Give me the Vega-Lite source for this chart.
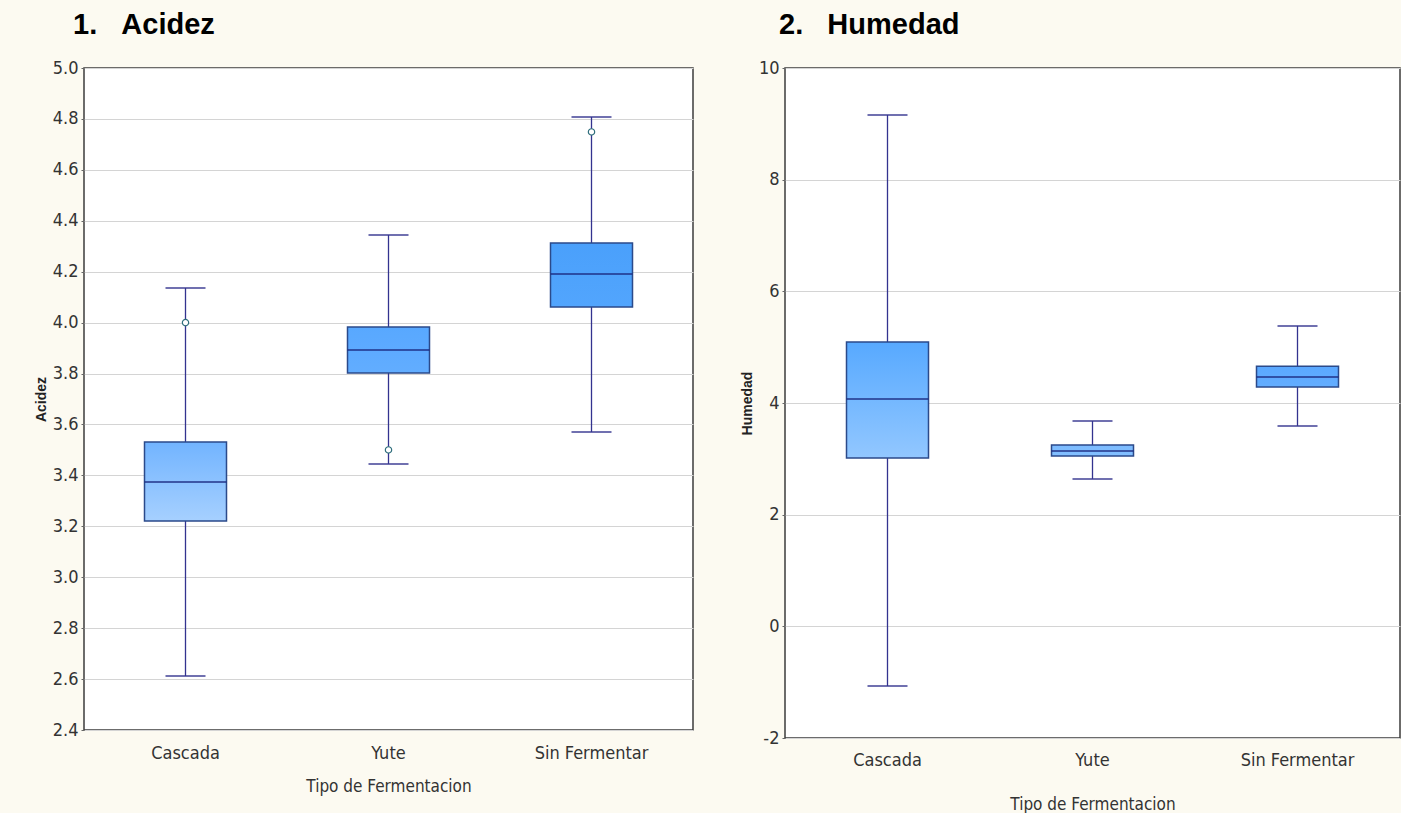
{
  "$schema": "https://vega.github.io/schema/vega-lite/v6.json",
  "background": "#fcfaf1",
  "padding": {"left": 33, "top": 10, "right": 0, "bottom": 0},
  "spacing": 45,
  "config": {
    "view": {"stroke": "#3c3c3c", "strokeWidth": 1.5, "fill": "white"},
    "axis": {
      "labelFont": "Liberation Sans Narrow, DejaVu Sans Condensed, sans-serif",
      "labelFontSize": 18,
      "labelColor": "#333333",
      "titleFont": "Liberation Sans, Arial, sans-serif",
      "titleColor": "#222222",
      "domain": false,
      "tickColor": "#666666",
      "gridColor": "#d4d4d4",
      "gridWidth": 1.2
    },
    "title": {"font": "Liberation Sans, Arial, sans-serif", "fontSize": 29, "fontWeight": "bold", "color": "#000000", "anchor": "start", "frame": "group", "baseline": "alphabetic"}
  },
  "datasets": {
    "acidez": [
      {"tipo": "Cascada", "lo": 2.612, "q1": 3.221, "med": 3.374, "q3": 3.531, "hi": 4.136},
      {"tipo": "Yute", "lo": 3.445, "q1": 3.802, "med": 3.892, "q3": 3.983, "hi": 4.344},
      {"tipo": "Sin Fermentar", "lo": 3.570, "q1": 4.061, "med": 4.191, "q3": 4.313, "hi": 4.808}
    ],
    "acidez_out": [
      {"tipo": "Cascada", "v": 4.0},
      {"tipo": "Yute", "v": 3.5},
      {"tipo": "Sin Fermentar", "v": 4.749}
    ],
    "humedad": [
      {"tipo": "Cascada", "lo": -1.07, "q1": 3.015, "med": 4.071, "q3": 5.092, "hi": 9.158},
      {"tipo": "Yute", "lo": 2.64, "q1": 3.05, "med": 3.14, "q3": 3.247, "hi": 3.677},
      {"tipo": "Sin Fermentar", "lo": 3.59, "q1": 4.286, "med": 4.465, "q3": 4.66, "hi": 5.38}
    ]
  },
  "hconcat": [
    {
      "width": 609,
      "height": 662,
      "title": {"text": "1.\u00a0\u00a0\u00a0Acidez", "dx": -11, "offset": 19},
      "data": {"name": "acidez"},
      "encoding": {
        "x": {
          "field": "tipo", "type": "nominal", "sort": ["Cascada", "Yute", "Sin Fermentar"],
          "scale": {"paddingInner": 0, "paddingOuter": 0},
          "axis": {"title": "Tipo de Fermentacion", "labelAngle": 0, "ticks": false, "labelPadding": 14, "titlePadding": 16, "titleFont": "Liberation Sans Narrow, DejaVu Sans Condensed, sans-serif", "titleFontSize": 17, "titleFontWeight": "normal", "titleColor": "#333333"}
        }
      },
      "layer": [
        {
          "mark": {"type": "rule", "color": "#33338f", "strokeWidth": 1.3},
          "encoding": {
            "y": {"field": "lo", "type": "quantitative", "scale": {"domain": [2.4, 5.0], "nice": false, "zero": false},
              "axis": {"title": "Acidez", "values": [2.4, 2.6, 2.8, 3.0, 3.2, 3.4, 3.6, 3.8, 4.0, 4.2, 4.4, 4.6, 4.8, 5.0], "format": ".1f", "tickSize": 3, "labelPadding": 3, "titlePadding": 4, "titleFontSize": 14, "titleFontWeight": "bold"}},
            "y2": {"field": "hi"}
          }
        },
        {"mark": {"type": "tick", "color": "#33338f", "size": 40, "thickness": 2}, "encoding": {"y": {"field": "lo", "type": "quantitative"}}},
        {"mark": {"type": "tick", "color": "#33338f", "size": 40, "thickness": 2}, "encoding": {"y": {"field": "hi", "type": "quantitative"}}},
        {
          "transform": [{"filter": "datum.tipo === 'Cascada'"}],
          "mark": {"type": "bar", "size": 82, "stroke": "#2b4a8a", "strokeWidth": 1.5,
            "fill": {"gradient": "linear", "x1": 0, "y1": 0, "x2": 0, "y2": 1, "stops": [{"offset": 0, "color": "#72b4ff"}, {"offset": 1, "color": "#a6d0ff"}]}},
          "encoding": {"y": {"field": "q1", "type": "quantitative"}, "y2": {"field": "q3"}}
        },
        {
          "transform": [{"filter": "datum.tipo === 'Yute'"}],
          "mark": {"type": "bar", "size": 82, "stroke": "#2b4a8a", "strokeWidth": 1.5,
            "fill": {"gradient": "linear", "x1": 0, "y1": 0, "x2": 0, "y2": 1, "stops": [{"offset": 0, "color": "#58a8ff"}, {"offset": 1, "color": "#62adff"}]}},
          "encoding": {"y": {"field": "q1", "type": "quantitative"}, "y2": {"field": "q3"}}
        },
        {
          "transform": [{"filter": "datum.tipo === 'Sin Fermentar'"}],
          "mark": {"type": "bar", "size": 82, "stroke": "#2b4a8a", "strokeWidth": 1.5,
            "fill": {"gradient": "linear", "x1": 0, "y1": 0, "x2": 0, "y2": 1, "stops": [{"offset": 0, "color": "#4aa0fb"}, {"offset": 1, "color": "#52a5fd"}]}},
          "encoding": {"y": {"field": "q1", "type": "quantitative"}, "y2": {"field": "q3"}}
        },
        {"mark": {"type": "tick", "color": "#1b2a80", "size": 82, "thickness": 2}, "encoding": {"y": {"field": "med", "type": "quantitative"}}},
        {
          "data": {"name": "acidez_out"},
          "mark": {"type": "point", "shape": "circle", "size": 40, "filled": false, "fill": "white", "stroke": "#2f6e7c", "strokeWidth": 1.2, "opacity": 1},
          "encoding": {"y": {"field": "v", "type": "quantitative"}}
        }
      ]
    },
    {
      "width": 615,
      "height": 670,
      "title": {"text": "2.\u00a0\u00a0\u00a0Humedad", "dx": -6, "offset": 19},
      "data": {"name": "humedad"},
      "encoding": {
        "x": {
          "field": "tipo", "type": "nominal", "sort": ["Cascada", "Yute", "Sin Fermentar"],
          "scale": {"paddingInner": 0, "paddingOuter": 0},
          "axis": {"title": "Tipo de Fermentacion", "labelAngle": 0, "ticks": false, "labelPadding": 13, "titlePadding": 27, "titleFont": "Liberation Sans Narrow, DejaVu Sans Condensed, sans-serif", "titleFontSize": 17, "titleFontWeight": "normal", "titleColor": "#333333"}
        }
      },
      "layer": [
        {
          "mark": {"type": "rule", "color": "#33338f", "strokeWidth": 1.3},
          "encoding": {
            "y": {"field": "lo", "type": "quantitative", "scale": {"domain": [-2, 10], "nice": false, "zero": false},
              "axis": {"title": "Humedad", "values": [-2, 0, 2, 4, 6, 8, 10], "labelExpr": "'' + datum.value", "tickSize": 3, "labelPadding": 3, "titlePadding": 4, "titleFontSize": 14, "titleFontWeight": "bold"}},
            "y2": {"field": "hi"}
          }
        },
        {"mark": {"type": "tick", "color": "#33338f", "size": 40, "thickness": 2}, "encoding": {"y": {"field": "lo", "type": "quantitative"}}},
        {"mark": {"type": "tick", "color": "#33338f", "size": 40, "thickness": 2}, "encoding": {"y": {"field": "hi", "type": "quantitative"}}},
        {
          "transform": [{"filter": "datum.tipo === 'Cascada'"}],
          "mark": {"type": "bar", "size": 82, "stroke": "#2b4a8a", "strokeWidth": 1.5,
            "fill": {"gradient": "linear", "x1": 0, "y1": 0, "x2": 0, "y2": 1, "stops": [{"offset": 0, "color": "#57a9ff"}, {"offset": 1, "color": "#92c7ff"}]}},
          "encoding": {"y": {"field": "q1", "type": "quantitative"}, "y2": {"field": "q3"}}
        },
        {
          "transform": [{"filter": "datum.tipo === 'Yute'"}],
          "mark": {"type": "bar", "size": 82, "stroke": "#2b4a8a", "strokeWidth": 1.5,
            "fill": {"gradient": "linear", "x1": 0, "y1": 0, "x2": 0, "y2": 1, "stops": [{"offset": 0, "color": "#7cbbff"}, {"offset": 1, "color": "#82bfff"}]}},
          "encoding": {"y": {"field": "q1", "type": "quantitative"}, "y2": {"field": "q3"}}
        },
        {
          "transform": [{"filter": "datum.tipo === 'Sin Fermentar'"}],
          "mark": {"type": "bar", "size": 82, "stroke": "#2b4a8a", "strokeWidth": 1.5,
            "fill": {"gradient": "linear", "x1": 0, "y1": 0, "x2": 0, "y2": 1, "stops": [{"offset": 0, "color": "#5aa8ff"}, {"offset": 1, "color": "#63adff"}]}},
          "encoding": {"y": {"field": "q1", "type": "quantitative"}, "y2": {"field": "q3"}}
        },
        {"mark": {"type": "tick", "color": "#1b2a80", "size": 82, "thickness": 2}, "encoding": {"y": {"field": "med", "type": "quantitative"}}}
      ]
    }
  ]
}
